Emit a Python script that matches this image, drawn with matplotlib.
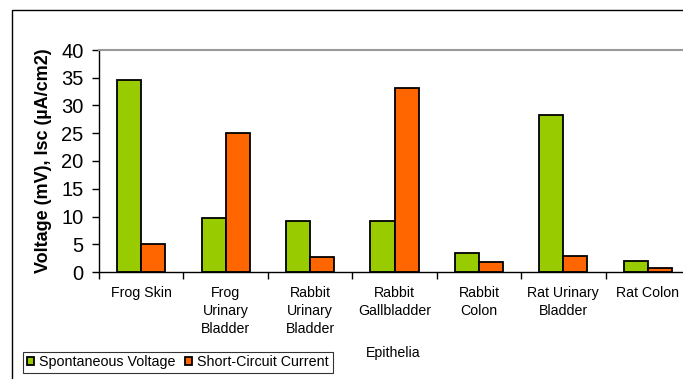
import numpy as np
import matplotlib
matplotlib.use("Agg")
import matplotlib.pyplot as plt
from matplotlib.patches import Rectangle

plt.rcParams['font.family'] = ['Liberation Sans', 'DejaVu Sans']

tissues = ["Frog Skin", "Frog\nUrinary\nBladder", "Rabbit\nUrinary\nBladder",
           "Rabbit\nGallbladder", "Rabbit\nColon", "Rat Urinary\nBladder", "Rat Colon"]
voltage = [34.6, 9.7, 9.2, 9.2, 3.4, 28.3, 1.9]
current = [5.0, 25.0, 2.7, 33.1, 1.8, 2.9, 0.8]
yticks = [0, 5, 10, 15, 20, 25, 30, 35, 40]

W, H = 683, 379
fig = plt.figure(figsize=(W / 100, H / 100), dpi=100)

# outer chart border (runs off the right/bottom edge)
fig.patches.append(Rectangle((12 / W, -0.1), 1.2, 1 - 10 / H + 0.1,
                             transform=fig.transFigure, fill=False,
                             edgecolor='black', lw=1))

ax = fig.add_axes([99 / W, 1 - 272 / H, (690 - 99) / W, (272 - 50) / H])
x = np.arange(len(tissues))
bw = 0.285
ax.bar(x - bw / 2, voltage, bw, color='#99CC00', edgecolor='black', lw=1.3,
       label='Spontaneous Voltage')
ax.bar(x + bw / 2, current, bw, color='#FF6600', edgecolor='black', lw=1.3,
       label='Short-Circuit Current')

ax.set_xlim(-0.5, len(tissues) - 0.5)
ax.set_ylim(0, 40)
ax.set_yticks(yticks)
ax.tick_params(axis='y', labelsize=14.5, length=5, width=1, pad=6)
ax.set_xticks(np.arange(len(tissues) + 1) - 0.5)
ax.set_xticklabels([])
ax.set_xticks(x, minor=True)
ax.set_xticklabels(tissues, minor=True, fontsize=10.2, linespacing=1.36, va='top')
ax.tick_params(axis='x', which='major', length=5, width=1)
ax.tick_params(axis='x', which='minor', length=0, pad=10)

ax.spines['right'].set_visible(False)
ax.spines['top'].set_color('#999999')
ax.spines['top'].set_linewidth(1.5)
for s in ('left', 'bottom'):
    ax.spines[s].set_linewidth(1)

ax.set_ylabel('Voltage (mV), Isc (\u00b5A/cm2)', fontsize=13, fontweight='bold',
              labelpad=7)

fig.text(393 / W, 1 - 353 / H, 'Epithelia', ha='center', va='center', fontsize=10.2)

leg = fig.legend(loc='lower left', bbox_to_anchor=(23 / W, 1 - 373 / H),
                 ncol=2, fontsize=10.3, frameon=True, fancybox=False,
                 edgecolor='black', handlelength=0.5, handleheight=0.5,
                 handletextpad=0.4, columnspacing=0.6, borderpad=0.25,
                 borderaxespad=0)
leg.get_frame().set_linewidth(0.8)

fig.savefig('out.png', dpi=100)
